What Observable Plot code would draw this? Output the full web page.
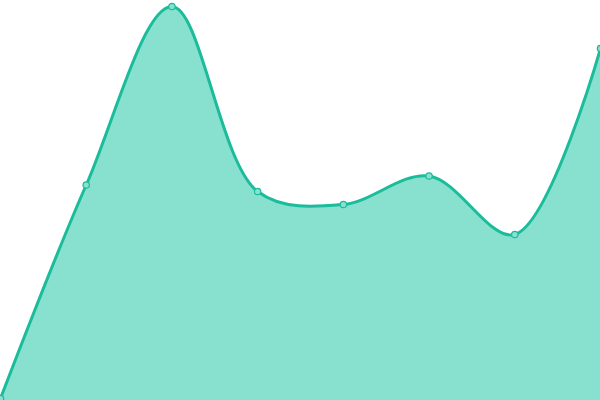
<!DOCTYPE html>
<html>
<head>
<meta charset="utf-8">
<script src="https://cdn.jsdelivr.net/npm/d3@7"></script>
<script src="https://cdn.jsdelivr.net/npm/@observablehq/plot@0.6"></script>
<style>
  html, body { margin: 0; padding: 0; background: #fff; }
  #chart svg { display: block; }
</style>
</head>
<body>
<div id="chart"></div>
<script>
const xs = [0, 1, 2, 3, 4, 5, 6, 7];
const values = [2, 215.5, 394, 209, 196, 224.5, 166, 352];

const data = xs.map((x, i) => ({x, y: values[i]}));

const chart = Plot.plot({
  width: 600,
  height: 400,
  margin: 0,
  x: {domain: [0, 7], axis: null},
  y: {domain: [0, 400], axis: null},
  marks: [
    Plot.areaY(data, {x: "x", y: "y", curve: "catmull-rom", fill: "#88e0cf", fillOpacity: 1}),
    Plot.lineY(data, {x: "x", y: "y", curve: "catmull-rom", stroke: "#1abc9c", strokeWidth: 3}),
    Plot.dot(data, {x: "x", y: "y", r: 3.2, fill: "#88e0cf", stroke: "#1abc9c", strokeWidth: 1.2})
  ]
});
document.getElementById("chart").appendChild(chart);
</script>
</body>
</html>
